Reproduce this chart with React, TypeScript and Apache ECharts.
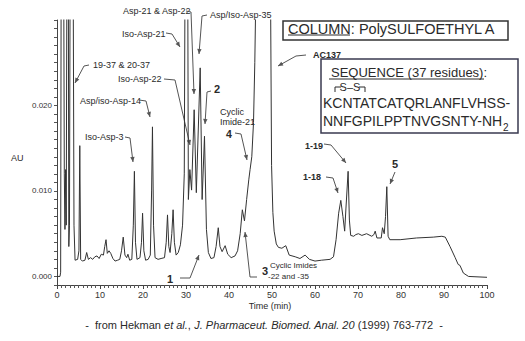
import React, { useEffect, useRef } from "react";
import * as echarts from "echarts";

// Retention time (min) and absorbance (AU)
const times = [
  0, 0.7, 0.85, 1.0, 1.5, 1.7, 1.85, 2.0, 2.15, 2.35, 2.6, 2.75, 2.9, 3.1, 3.7, 3.95, 4.2, 4.8, 5.1, 5.3, 5.5, 5.9,
  6.5, 6.9, 7.3, 7.8, 8.3, 8.8, 9.3, 9.8, 10.3, 10.8, 11.1, 11.4, 11.7, 12.1, 12.5, 13.0, 13.5, 14.1, 14.6, 15.0,
  15.4, 15.8, 16.2, 16.5, 16.9, 17.4, 17.75, 18.0, 18.25, 18.6, 19.3, 19.65, 19.9, 20.2, 20.6, 21.2, 21.7, 22.0,
  22.2, 22.45, 22.8, 23.5, 24.2, 25.0, 25.4, 25.7, 26.0, 26.3, 26.7, 27.0, 27.3, 27.7, 28.2, 28.7, 29.2, 29.6,
  29.85, 30.35, 30.55, 30.9, 31.3, 31.9, 32.4, 33.3, 33.75, 34.3, 34.75, 35.2, 35.8, 36.5, 37.0, 37.5, 37.9, 38.4,
  39.1, 39.7, 40.5, 41.4, 42.0, 42.6, 43.1, 43.6, 44.1, 44.6, 44.9, 45.3, 45.7, 46.0, 46.3, 46.6, 49.4, 49.7, 49.9,
  50.2, 50.5, 51.0, 51.5, 52.3, 53.2, 54.0, 55.4, 56.5, 57.7, 58.7, 60.0, 61.5, 63.5, 64.3, 64.9, 65.5, 66.0, 66.5,
  66.9, 67.2, 67.7, 68.0, 68.3, 69.0, 69.5, 70.1, 70.9, 72.0, 73.2, 73.7, 74.0, 74.4, 75.4, 75.7, 76.1, 76.4, 76.7,
  77.0, 77.4, 79.8, 83.6, 87.5, 89.5, 90.3, 91.4, 92.6, 93.3, 93.7, 94.5, 95.7, 100,
];
const absorbance = [
  0, 0, 0.0005, 0.045, 0.045, 0.012, 0.0055, 0.0125, 0.006, 0.045, 0.045, 0.0035, 0.006, 0.045, 0.045, 0.006, 0.0019, 0.002, 0.003, 0.0153, 0.002, 0.0018,
  0.0019, 0.0028, 0.002, 0.0022, 0.002, 0.0023, 0.0024, 0.0021, 0.0026, 0.0025, 0.0035, 0.0043, 0.0027, 0.003, 0.0027, 0.0021, 0.0018, 0.0019, 0.002, 0.003,
  0.0046, 0.0025, 0.0022, 0.0026, 0.0019, 0.002, 0.006, 0.0123, 0.004, 0.002, 0.0022, 0.004, 0.0074, 0.003, 0.0019, 0.002, 0.0025, 0.01,
  0.0175, 0.006, 0.0022, 0.002, 0.0021, 0.0022, 0.004, 0.0072, 0.0035, 0.0028, 0.005, 0.0078, 0.004, 0.0025, 0.0028, 0.0037, 0.006, 0.012,
  0.045, 0.045, 0.009, 0.0125, 0.0101, 0.0195, 0.0098, 0.0244, 0.009, 0.0164, 0.0055, 0.0028, 0.0021, 0.0022, 0.0035, 0.0057, 0.0035, 0.0029,
  0.0036, 0.0026, 0.0022, 0.0024, 0.003, 0.005, 0.0078, 0.0065, 0.009, 0.0113, 0.0125, 0.014, 0.018, 0.025, 0.035, 0.045, 0.045, 0.03, 0.013,
  0.0075, 0.0053, 0.0038, 0.0034, 0.0033, 0.0036, 0.0025, 0.0023, 0.0021, 0.0025, 0.002, 0.0018, 0.0019, 0.002, 0.0023, 0.0043, 0.0074, 0.0089, 0.007,
  0.0053, 0.008, 0.0123, 0.0066, 0.0048, 0.0047, 0.0049, 0.005, 0.0048, 0.005, 0.0047, 0.0049, 0.0053, 0.0045, 0.0045, 0.0057, 0.005, 0.007, 0.0105,
  0.0047, 0.0043, 0.0043, 0.0045, 0.0046, 0.0047, 0.0046, 0.0035, 0.0022, 0.0014, 0.0013, 0.0004, 0, -0.0001,
];
const yLabelValues = [0, 0.01, 0.02];

const FONT = '"Liberation Sans", Arial, sans-serif';
const INK = "#2a2a2a";
const ARROW = "#555";

function txt(x: number, y: number, text: string, size: number, bold = false, align = "left", extra: any = {}) {
  return {
    type: "text",
    x,
    y,
    silent: true,
    style: {
      text,
      font: `${bold ? "bold " : ""}${size}px ${FONT}`,
      fill: INK,
      textAlign: align,
      textVerticalAlign: "middle",
      align,
      verticalAlign: "middle",
      ...extra,
    },
  };
}

function arrow(pts: number[][]) {
  const n = pts.length;
  const [x1, y1] = pts[n - 2];
  const [x2, y2] = pts[n - 1];
  const len = Math.hypot(x2 - x1, y2 - y1) || 1;
  const dx = (x2 - x1) / len;
  const dy = (y2 - y1) / len;
  const bx = x2 - dx * 5;
  const by = y2 - dy * 5;
  return [
    { type: "polyline", silent: true, shape: { points: pts }, style: { stroke: ARROW, lineWidth: 1, fill: null } },
    {
      type: "polygon",
      silent: true,
      shape: { points: [[x2, y2], [bx - dy * 2.2, by + dx * 2.2], [bx + dy * 2.2, by - dx * 2.2]] },
      style: { fill: ARROW, stroke: null },
    },
  ];
}

function line(x1: number, y1: number, x2: number, y2: number, w = 1, c = INK) {
  return { type: "line", silent: true, shape: { x1, y1, x2, y2 }, style: { stroke: c, lineWidth: w } };
}

export default function App() {
  const ref = useRef<HTMLDivElement>(null);
  useEffect(() => {
    if (!ref.current) return;
    const chart = echarts.init(ref.current, null, { renderer: "svg" });
    const data = times.map((t, i) => [t, absorbance[i]]);

    const graphics: any[] = [
      // axis titles
      txt(11, 158, "AU", 9),
      txt(270, 306, "Time (min)", 9, false, "center"),
      // peak annotations
      txt(123, 11, "Asp-21 & Asp-22", 9),
      ...arrow([[186, 11], [191, 12], [194, 94]]),
      txt(122, 34, "Iso-Asp-21", 9),
      ...arrow([[166, 33], [172, 34], [180, 47]]),
      txt(210, 15, "Asp/Iso-Asp-35", 9),
      ...arrow([[207, 15], [202, 16], [199, 54]]),
      txt(93, 65, "19-37 & 20-37", 9),
      ...arrow([[89, 65], [84, 66], [75, 83]]),
      txt(118, 79, "Iso-Asp-22", 9),
      ...arrow([[164, 79], [175, 80], [190, 145]]),
      txt(214, 89, "2", 11, true),
      ...arrow([[211, 91], [207, 92], [205, 124]]),
      txt(80, 101, "Asp/iso-Asp-14", 9),
      ...arrow([[139, 100], [146, 101], [150, 117]]),
      txt(220, 112, "Cyclic", 9),
      txt(220, 122, "Imide-21", 9),
      txt(226, 134, "4", 10.5, true),
      ...arrow([[235, 133], [241, 134], [247, 160]]),
      txt(85, 137, "Iso-Asp-3", 9),
      ...arrow([[125, 137], [130, 138], [133, 162]]),
      txt(313, 55, "AC137", 9, true),
      ...arrow([[306, 55], [296, 56], [278, 66]]),
      txt(305, 146, "1-19", 9, true),
      ...arrow([[324, 144], [331, 145], [346, 163]]),
      txt(303, 177, "1-18", 9, true),
      ...arrow([[326, 177], [333, 178], [338, 193]]),
      txt(395, 164, "5", 11, true, "center"),
      ...arrow([[395, 172], [390, 184]]),
      txt(170, 279, "1", 11, true, "center"),
      ...arrow([[180, 278], [190, 278], [199, 255]]),
      txt(262, 271, "3", 11, true),
      txt(270, 265, "Cyclic Imides", 8),
      txt(268, 276, "-22 and -35", 8),
      ...arrow([[257, 277], [250, 277], [245, 232]]),
      // column box
      { type: "rect", silent: true, shape: { x: 283, y: 21, width: 225, height: 19 }, style: { fill: "#fff", stroke: "#333", lineWidth: 1.5 } },
      txt(288, 29, "COLUMN: PolySULFOETHYL A", 14.5),
      line(288, 35, 350, 35, 1),
      // sequence box
      { type: "rect", silent: true, shape: { x: 321, y: 59, width: 197, height: 74 }, style: { fill: "#fff", stroke: "#3a3a50", lineWidth: 1.5 } },
      txt(331, 72, "SEQUENCE (37 residues):", 13),
      line(329, 79, 484, 79, 1),
      txt(350, 87, "S–S", 11, false, "center"),
      { type: "polyline", silent: true, shape: { points: [[335, 92], [335, 87], [341, 87]] }, style: { stroke: INK, lineWidth: 1, fill: null } },
      { type: "polyline", silent: true, shape: { points: [[359, 87], [365, 87], [365, 92]] }, style: { stroke: INK, lineWidth: 1, fill: null } },
      txt(323, 103, "KCNTATCATQRLANFLVHSS-", 14),
      txt(323, 121, "NNFGPILPPTNVGSNTY-NH", 14),
      txt(503, 127, "2", 10),
      // citation
      {
        type: "text",
        x: 264,
        y: 325,
        silent: true,
        style: {
          text: "{n|-  from Hekman }{i|et al.}{n|, }{i|J. Pharmaceut. Biomed. Anal. 20}{n| (1999) 763-772  -}",
          font: `11px ${FONT}`,
          fill: INK,
          textAlign: "center",
          textVerticalAlign: "middle",
          align: "center",
          verticalAlign: "middle",
          rich: {
            n: { fontSize: 11, fontFamily: FONT, fill: INK, color: INK },
            i: { fontSize: 11, fontFamily: FONT, fontStyle: "italic", fill: INK, color: INK },
          },
        },
      },
    ];

    chart.setOption({
      animation: false,
      backgroundColor: "#fff",
      grid: { left: 57, right: 38, top: 20, bottom: 56, containLabel: false },
      xAxis: {
        type: "value",
        min: 0,
        max: 100,
        interval: 10,
        axisLine: { show: true, onZero: false, lineStyle: { color: "#444", width: 1 } },
        axisTick: { show: true, length: 4, lineStyle: { color: "#444" } },
        minorTick: { show: true, splitNumber: 10, length: 3, lineStyle: { color: "#555" } },
        axisLabel: { fontSize: 9, color: "#333", margin: 5, fontFamily: FONT },
        splitLine: { show: false },
      },
      yAxis: {
        type: "value",
        min: -0.001,
        max: 0.03,
        interval: 0.001,
        axisLine: { show: true, lineStyle: { color: "#444", width: 1 } },
        axisTick: { show: true, length: 3, lineStyle: { color: "#555" } },
        axisLabel: {
          fontSize: 8,
          color: "#333",
          margin: 5,
          fontFamily: FONT,
          formatter: (v: number) => {
            const hit = yLabelValues.find((l) => Math.abs(l - v) < 1e-7);
            return hit !== undefined ? hit.toFixed(3) : "";
          },
        },
        splitLine: { show: false },
      },
      series: [
        {
          type: "line",
          data,
          showSymbol: false,
          clip: true,
          lineStyle: { color: "#333", width: 1 },
        },
      ],
      graphic: graphics,
    });
    return () => chart.dispose();
  }, []);
  return (
    <div
      ref={ref}
      style={{ position: "fixed", left: 0, top: 0, width: 525, height: 341, background: "#fff" }}
    />
  );
}
